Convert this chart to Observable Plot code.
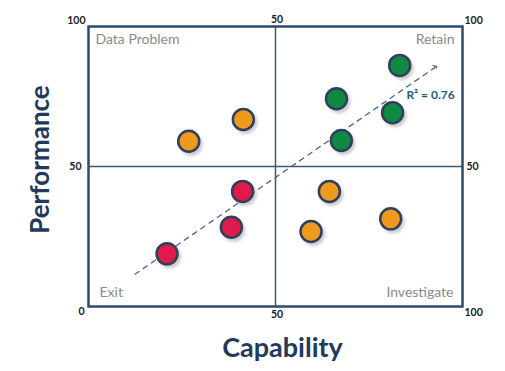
<!DOCTYPE html>
<html>
<head>
<meta charset="utf-8">
<script src="https://cdn.jsdelivr.net/npm/d3@7"></script>
<script src="https://cdn.jsdelivr.net/npm/@observablehq/plot@0.6"></script>
<style>
  html, body { margin: 0; padding: 0; background: #fff; }
  svg { display: block; }
</style>
</head>
<body>
<div id="chart"></div>
<script>
// ---- data ----
const capability  = [26.8, 41.4, 83.2, 66.3, 81.3, 67.6, 41.2, 38.2, 21.0, 64.4, 59.5, 80.8];
const performance = [59.0, 66.8, 86.1, 74.2, 69.2, 59.3, 41.1, 28.3, 18.8, 41.1, 26.8, 31.3];
const status      = ["amber","amber","green","green","green","green","red","red","red","amber","amber","amber"];

const statusNames  = ["red", "amber", "green"];
const statusColors = ["#E11A4C", "#EE9A1F", "#0F8A43"];

const quadrantNames = ["Data Problem", "Retain", "Exit", "Investigate"];

const trendStart = [12.3, 11.4];
const trendEnd   = [92.8, 85.5];
const rSquaredLabel = "R² = 0.76";
const rSquaredAt = [85.0, 75.6];

const tickValues = [0, 50, 100];
const xTitle = "Capability";
const yTitle = "Performance";

const points = capability.map((c, i) => ({capability: c, performance: performance[i], status: status[i]}));

const navy = "#2E4A6B";
const tickFont = {fill: "#222", fontWeight: "bold", fontSize: 10.5};
const quadFont = {fill: "#8a8a8a", fontSize: 14};

const chart = Plot.plot({
  width: 505,
  height: 371,
  marginLeft: 88,
  marginRight: 43,
  marginTop: 26,
  marginBottom: 65,
  x: {domain: [0, 100], axis: null},
  y: {domain: [0, 100], axis: null},
  color: {domain: statusNames, range: statusColors},
  style: {fontFamily: "Lato, 'Open Sans', sans-serif", background: "white"},
  marks: [
    Plot.ruleX([tickValues[1]], {stroke: "#3B5878", strokeWidth: 1.5}),
    Plot.ruleY([tickValues[1]], {stroke: "#3B5878", strokeWidth: 1.5}),
    Plot.frame({stroke: navy, strokeWidth: 2.5}),

    // quadrant labels
    Plot.text([quadrantNames[0]], {frameAnchor: "top-left", textAnchor: "start", lineAnchor: "middle", dx: 7, dy: 13, ...quadFont}),
    Plot.text([quadrantNames[1]], {frameAnchor: "top-right", textAnchor: "end", lineAnchor: "middle", dx: -8, dy: 13, ...quadFont}),
    Plot.text([quadrantNames[2]], {frameAnchor: "bottom-left", textAnchor: "start", lineAnchor: "middle", dx: 11, dy: -14, ...quadFont}),
    Plot.text([quadrantNames[3]], {frameAnchor: "bottom-right", textAnchor: "end", lineAnchor: "middle", dx: -9, dy: -14, ...quadFont}),

    // trend arrow
    Plot.link([0], {
      x1: () => trendStart[0], y1: () => trendStart[1],
      x2: () => trendEnd[0], y2: () => trendEnd[1],
      stroke: "#4A6584", strokeWidth: 1.3, strokeDasharray: "6,4", markerEnd: "arrow"
    }),
    Plot.text([rSquaredLabel], {
      x: () => rSquaredAt[0], y: () => rSquaredAt[1], text: d => d,
      textAnchor: "start", fill: "#1E5A86", fontWeight: "bold", fontSize: 12
    }),

    // shadows
    Plot.dot(points, {x: "capability", y: "performance", r: 11.5, fill: "#9a9a9a", fillOpacity: 0.5, dx: 2.5, dy: 3, imageFilter: "blur(1.5px)"}),
    // points
    Plot.dot(points, {x: "capability", y: "performance", r: 10.5, fill: "status", stroke: "#2F3F5E", strokeWidth: 2.5}),

    // tick labels
    Plot.text([tickValues[2]], {x: 0, y: d => d, text: d => String(d), textAnchor: "end", dx: -3, dy: -6, ...tickFont}),
    Plot.text([tickValues[1]], {x: 0, y: d => d, text: d => String(d), textAnchor: "end", dx: -7, ...tickFont}),
    Plot.text([tickValues[0]], {x: 0, y: d => d, text: d => String(d), textAnchor: "end", dx: -4, dy: 5, ...tickFont}),
    Plot.text([tickValues[1]], {x: d => d, y: 100, text: d => String(d), dx: 1.5, dy: -7, ...tickFont}),
    Plot.text([tickValues[1]], {x: d => d, y: 0, text: d => String(d), dx: 1.5, dy: 8, ...tickFont}),
    Plot.text([tickValues[2]], {x: 100, y: d => d, text: d => String(d), textAnchor: "start", dx: 2, dy: -6, ...tickFont}),
    Plot.text([tickValues[1]], {x: 100, y: d => d, text: d => String(d), textAnchor: "start", dx: 4, ...tickFont}),
    Plot.text([tickValues[2]], {x: d => d, y: 0, text: d => String(d), textAnchor: "start", dx: 2, dy: 6, ...tickFont}),

    // axis titles
    Plot.text([xTitle], {frameAnchor: "bottom", textAnchor: "middle", lineAnchor: "middle", dx: 7, dy: 42, fill: "#1F3A5C", fontWeight: "bold", fontSize: 27}),
    Plot.text([yTitle], {frameAnchor: "left", textAnchor: "middle", lineAnchor: "middle", rotate: -90, dx: -48, dy: -7, fill: "#1F3A5C", fontWeight: "bold", fontSize: 26})
  ]
});
document.getElementById("chart").append(chart);
</script>
</body>
</html>
